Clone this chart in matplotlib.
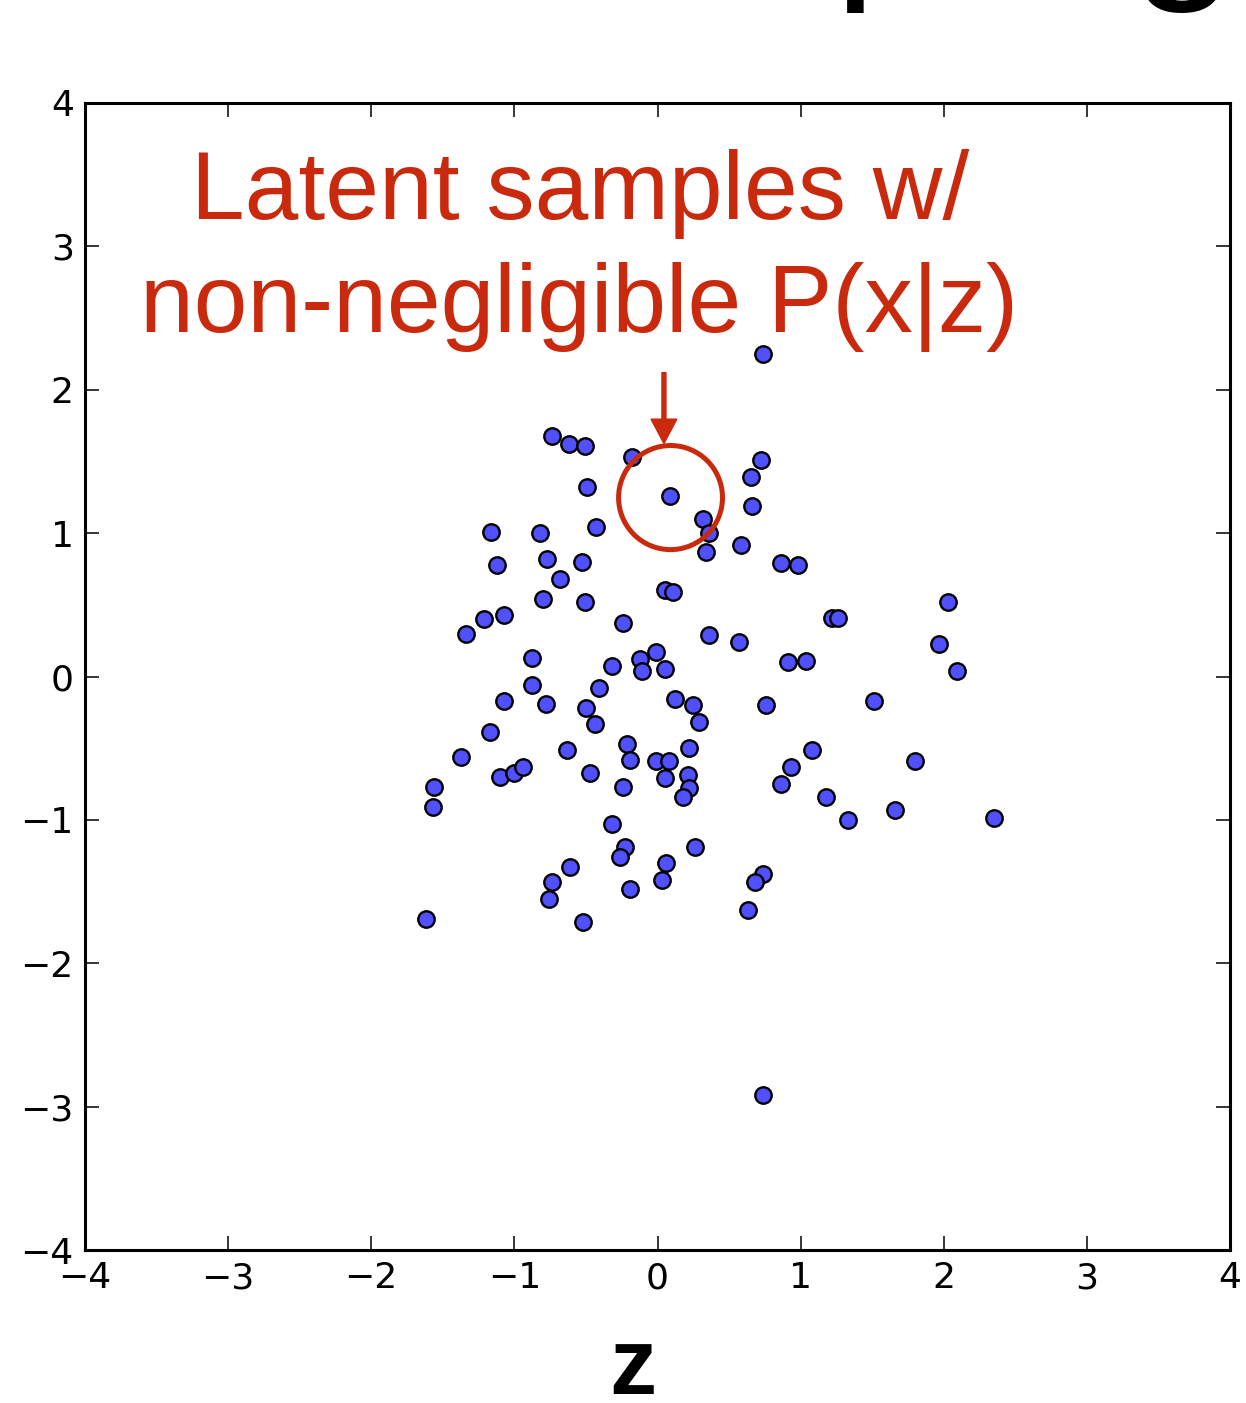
import numpy as np
import matplotlib
matplotlib.use('Agg')
import matplotlib.pyplot as plt
from matplotlib.patches import Ellipse

# latent samples z
z1 = [0.74, -0.74, -0.62, -0.51, -0.18, 0.72, 0.65, -0.49, 0.09, 0.66,
      0.32, 0.36, 0.34, 0.58, -0.43, -1.16, -0.82, -1.12, -0.77, -0.53,
      -0.68, -0.80, -0.51, 0.86, 0.98, 0.05, 0.11, 1.22, 1.26, -1.21,
      -1.07, -1.34, -0.24, 0.36, 0.57, 0.91, 1.04, -0.88, -0.32, -0.12,
      -0.01, -0.11, 0.05, -0.88, -0.41, -1.07, -0.78, -0.50, -0.44, 0.12,
      0.25, 0.29, 0.76, -1.17, -1.37, -0.63, -0.21, -0.19, -0.01, 0.08,
      0.22, -1.10, -1.00, -0.94, -0.47, -0.24, 0.05, 0.21, 0.22, 0.18,
      1.08, 0.93, 0.86, 1.18, 1.33, -1.56, -1.57, -0.32, -0.23, -0.26,
      0.06, 0.26, -0.61, -0.74, -0.76, -0.19, 0.03, 0.74, 0.68, 0.63,
      -0.52, -1.62, 0.74, 2.03, 1.97, 2.09, 1.51, 1.80, 1.66, 2.35]
z2 = [2.25, 1.68, 1.62, 1.61, 1.53, 1.51, 1.39, 1.32, 1.26, 1.19,
      1.10, 1.00, 0.87, 0.92, 1.04, 1.01, 1.00, 0.78, 0.82, 0.80,
      0.68, 0.54, 0.52, 0.79, 0.78, 0.60, 0.59, 0.41, 0.41, 0.40,
      0.43, 0.30, 0.37, 0.29, 0.24, 0.10, 0.11, 0.13, 0.07, 0.12,
      0.17, 0.04, 0.05, -0.06, -0.08, -0.17, -0.19, -0.22, -0.33, -0.16,
      -0.20, -0.32, -0.20, -0.39, -0.56, -0.51, -0.47, -0.58, -0.59, -0.59,
      -0.50, -0.70, -0.67, -0.63, -0.67, -0.77, -0.71, -0.69, -0.78, -0.84,
      -0.51, -0.63, -0.75, -0.84, -1.00, -0.77, -0.91, -1.03, -1.19, -1.26,
      -1.30, -1.19, -1.33, -1.43, -1.55, -1.48, -1.42, -1.38, -1.43, -1.63,
      -1.71, -1.69, -2.92, 0.52, 0.23, 0.04, -0.17, -0.59, -0.93, -0.99]
ticks = [-4, -3, -2, -1, 0, 1, 2, 3, 4]

red = '#c9290c'

fig = plt.figure(figsize=(12.46, 14.03), dpi=100)
ax = fig.add_axes([0.0682, 0.109, 0.919, 0.8176])

ax.scatter(z1, z2, s=140, c='#5050ff', edgecolors='black', linewidths=1.7, zorder=3)

ax.set_xlim(-4, 4)
ax.set_ylim(-4, 4)
ax.set_xticks(ticks)
ax.set_yticks(ticks)
ax.set_xticklabels(['\u2212%d' % -t if t < 0 else str(t) for t in ticks])
ax.set_yticklabels(['\u2212%d' % -t if t < 0 else str(t) for t in ticks])
ax.tick_params(direction='in', length=10, width=1.1, top=True, right=True,
               labelsize=26, pad=8)
for sp in ax.spines.values():
    sp.set_linewidth(2.2)

ax.set_xlabel('z', fontsize=68, fontweight='bold', family='Liberation Sans', va='baseline')
ax.xaxis.set_label_coords(0.478, -0.1255)

# annotation
ax.text(-0.54, 3.19, 'Latent samples w/', color=red, fontsize=69.5,
        family='Liberation Sans', ha='center', va='baseline')
ax.text(-0.55, 2.40, 'non-negligible P(x|z)', color=red, fontsize=69.5,
        family='Liberation Sans', ha='center', va='baseline')
ax.arrow(0.045, 2.12, 0, -0.495, width=0.028, head_width=0.18, head_length=0.17,
         length_includes_head=True, color=red, zorder=4)
ax.add_patch(Ellipse((0.091, 1.248), 0.726, 0.726, fill=False, ec=red, lw=3.6, zorder=4))

# slide title, cut off at the top
fig.text(0.993, 1 + 26 / 1403, 'Sampling', fontsize=137, family='Liberation Sans',
         ha='right', va='baseline', color='black')

fig.savefig('out.png', dpi=100)
